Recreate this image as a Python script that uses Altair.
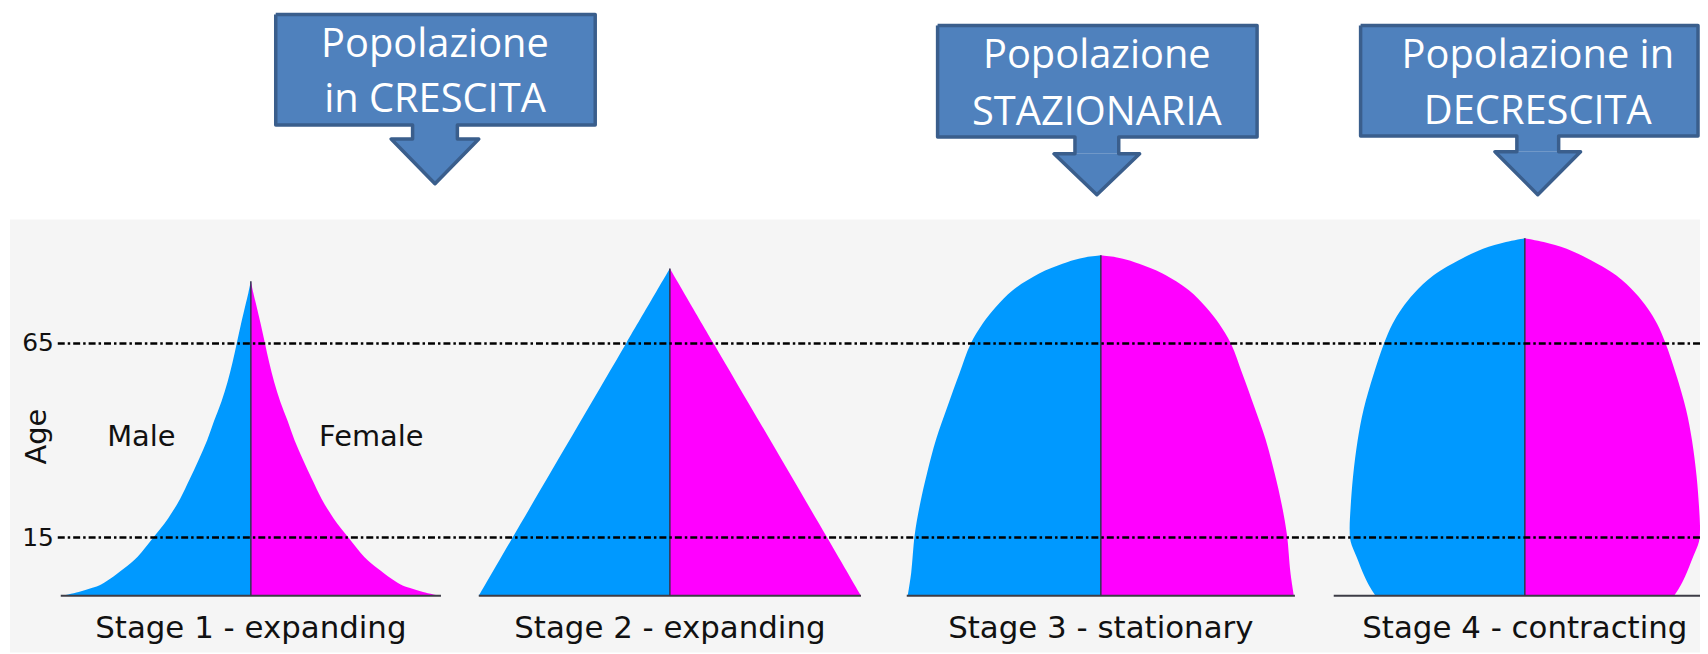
import altair as alt
import pandas as pd

# ---------------- data ----------------
stages = ["Stage 1 - expanding", "Stage 2 - expanding",
          "Stage 3 - stationary", "Stage 4 - contracting"]
stage_center = [252, 673, 1106, 1532]

# half-width of each pyramid (per sex) at a given age
stage1_age = [0, 1, 2, 3, 5, 7, 10, 15, 20, 25, 30, 35, 40, 45, 50, 55, 60, 65, 70, 75, 78, 81]
stage1_width = [190, 173, 160, 150, 138, 127.5, 114, 98, 83, 71, 61.5, 52.5, 44, 37,
                29.6, 23.5, 18.5, 14.2, 9.9, 5.3, 2.5, 0]
stage2_age = [0, 15, 65, 84.3]
stage2_width = [192, 158, 44, 0]
stage3_age = [0, 6, 15.7, 23.2, 31.7, 40.3, 48.8, 57.3, 64.8, 70.2, 74.4, 78.7,
              83, 85.5, 86.5, 87.2, 87.7]
stage3_width = [194, 190.5, 187, 182, 174.5, 165.5, 154, 142, 131, 118.5, 105.5,
                88.5, 62, 38.5, 27, 15, 0]
stage4_age = [0, 2, 5, 10, 14, 17, 23, 31, 40, 48, 57, 65, 70, 74, 78, 82.5,
              86.8, 89.4, 91.1, 92.1]
stage4_width = [150, 155, 161, 169, 175, 176, 175, 172.5, 168, 162, 152, 141.5,
                133, 123.5, 111, 92, 63.5, 42, 19, 0]
base_line_half = [191, 192, 195, 192]

age_ticks = [15, 65]
sex_labels = ["Male", "Female"]
sex_label_x = [142, 373]
sex_label_age = 41

callout_line1 = ["Popolazione", "Popolazione", "Popolazione in"]
callout_line2 = ["in CRESCITA", "STAZIONARIA", "DECRESCITA"]
box_left = [277, 942, 1367]
box_right = [598, 1263, 1706]
box_top = [13, 24, 24]
box_bottom = [124, 136, 135]
arrow_x = [437, 1102, 1545]
stem_half = [22.5, 22, 21]
head_half = [44, 43, 43]
head_top = [138, 153, 151]
tip_y = [183, 194, 194]
line1_y = [56, 67, 67]
line2_y = [111, 124, 123]

# ---------------- styles ----------------
BLUE = "#0099ff"
MAGENTA = "#ff00ff"
BOX_FILL = "#4f81bd"
BOX_EDGE = "#3a5e8c"
LABEL_FONT = "DejaVu Sans"
BOX_FONT = "Open Sans"

xs = alt.Scale(domain=[8, 1708], zero=False, nice=False)
ys_age = alt.Scale(domain=[-14.6, 151.0], zero=False, nice=False)
ys_page = alt.Scale(domain=[654, 8], zero=False, nice=False)

# ---------------- tables ----------------
shape_ages = [stage1_age, stage2_age, stage3_age, stage4_age]
shape_widths = [stage1_width, stage2_width, stage3_width, stage4_width]
rows = []
for s, c, ages, widths in zip(stages, stage_center, shape_ages, shape_widths):
    for a, w in zip(ages, widths):
        rows.append({"stage": s, "sex": "Male", "age": a, "lo": c - w, "hi": c})
        rows.append({"stage": s, "sex": "Female", "age": a, "lo": c, "hi": c + w})
pyr = pd.DataFrame(rows)

stage_df = pd.DataFrame({
    "stage": stages,
    "center": stage_center,
    "top": [a[-1] for a in shape_ages],
    "base": [0] * 4,
    "left": [c - h for c, h in zip(stage_center, base_line_half)],
    "right": [c + h for c, h in zip(stage_center, base_line_half)],
})

tick_df = pd.DataFrame({"age": age_ticks, "label": [str(t) for t in age_ticks],
                        "x0": [58] * 2, "x1": [1708] * 2})
sex_df = pd.DataFrame({"label": sex_labels, "x": sex_label_x,
                       "age": [sex_label_age] * 2})
age_title_df = pd.DataFrame({"label": ["Age"], "x": [37], "age": [sex_label_age]})

bg_df = pd.DataFrame({"x0": [10], "x1": [1708], "y0": [219], "y1": [654]})

ids = [0, 1, 2]
box_df = pd.DataFrame({"id": ids, "l": box_left, "r": box_right,
                       "t": box_top, "b": box_bottom})
stem_df = pd.DataFrame({"id": ids,
                        "l": [a - s for a, s in zip(arrow_x, stem_half)],
                        "r": [a + s for a, s in zip(arrow_x, stem_half)],
                        "t": box_bottom, "b": head_top})
tri_rows = []
outline_rows = []
for i in ids:
    a, sh, hh = arrow_x[i], stem_half[i], head_half[i]
    ht, tp = head_top[i], tip_y[i]
    tri_rows += [{"id": i, "x": a - hh, "y": ht, "y2": ht},
                 {"id": i, "x": a, "y": tp, "y2": ht},
                 {"id": i, "x": a + hh, "y": ht, "y2": ht}]
    pts = [(box_left[i], box_top[i]), (box_right[i], box_top[i]),
           (box_right[i], box_bottom[i]), (a + sh, box_bottom[i]),
           (a + sh, ht), (a + hh, ht), (a, tp), (a - hh, ht), (a - sh, ht),
           (a - sh, box_bottom[i]), (box_left[i], box_bottom[i]),
           (box_left[i], box_top[i])]
    for k, (px, py) in enumerate(pts):
        outline_rows.append({"id": i, "k": k, "x": px, "y": py})
tri_df = pd.DataFrame(tri_rows)
outline_df = pd.DataFrame(outline_rows)
text_df = pd.DataFrame({
    "id": ids * 2,
    "x": arrow_x * 2,
    "y": line1_y + line2_y,
    "text": callout_line1 + callout_line2,
})

# ---------------- layers ----------------
bg = alt.Chart(bg_df).mark_rect(color="#f5f5f5").encode(
    x=alt.X("x0:Q", scale=xs, axis=None), x2="x1:Q",
    y=alt.Y("y0:Q", scale=ys_page, axis=None), y2="y1:Q")

areas = alt.Chart(pyr).mark_area(orient="horizontal", interpolate="catmull-rom").encode(
    x=alt.X("lo:Q", scale=xs, axis=None, stack=None), x2="hi:Q",
    y=alt.Y("age:Q", scale=ys_age, axis=None),
    color=alt.Color("sex:N", scale=alt.Scale(domain=["Male", "Female"],
                                              range=[BLUE, MAGENTA]), legend=None),
    detail="stage:N")

base_lines = alt.Chart(stage_df).mark_rule(color="#3c3c46", strokeWidth=2).encode(
    x=alt.X("left:Q", scale=xs, axis=None), x2="right:Q",
    y=alt.Y("base:Q", scale=ys_age, axis=None))

center_lines = alt.Chart(stage_df).mark_rule(color="#33334d", strokeWidth=1.5).encode(
    x=alt.X("center:Q", scale=xs, axis=None),
    y=alt.Y("base:Q", scale=ys_age, axis=None), y2="top:Q")

dash_lines = alt.Chart(tick_df).mark_rule(
    color="black", strokeWidth=2.5, strokeDash=[7, 3, 2.5, 3]).encode(
    x=alt.X("x0:Q", scale=xs, axis=None), x2="x1:Q",
    y=alt.Y("age:Q", scale=ys_age, axis=None))

tick_text = alt.Chart(tick_df).mark_text(
    font=LABEL_FONT, fontSize=25, align="right", baseline="middle", color="#111", dx=-4
).encode(x=alt.X("x0:Q", scale=xs, axis=None),
         y=alt.Y("age:Q", scale=ys_age, axis=None), text="label:N")

sex_text = alt.Chart(sex_df).mark_text(
    font=LABEL_FONT, fontSize=29, align="center", baseline="middle", color="#111"
).encode(x=alt.X("x:Q", scale=xs, axis=None),
         y=alt.Y("age:Q", scale=ys_age, axis=None), text="label:N")

age_title = alt.Chart(age_title_df).mark_text(
    font=LABEL_FONT, fontSize=29, align="center", baseline="middle", color="#111",
    angle=270
).encode(x=alt.X("x:Q", scale=xs, axis=None),
         y=alt.Y("age:Q", scale=ys_age, axis=None), text="label:N")

stage_text = alt.Chart(stage_df).mark_text(
    font=LABEL_FONT, fontSize=31, align="center", baseline="alphabetic",
    color="#111", dy=42
).encode(x=alt.X("center:Q", scale=xs, axis=None),
         y=alt.Y("base:Q", scale=ys_age, axis=None), text="stage:N")

box_rect = alt.Chart(box_df).mark_rect(color=BOX_FILL).encode(
    x=alt.X("l:Q", scale=xs, axis=None), x2="r:Q",
    y=alt.Y("t:Q", scale=ys_page, axis=None), y2="b:Q")

stem_rect = alt.Chart(stem_df).mark_rect(color=BOX_FILL).encode(
    x=alt.X("l:Q", scale=xs, axis=None), x2="r:Q",
    y=alt.Y("t:Q", scale=ys_page, axis=None), y2="b:Q")

tri = alt.Chart(tri_df).mark_area(color=BOX_FILL, orient="vertical").encode(
    x=alt.X("x:Q", scale=xs, axis=None),
    y=alt.Y("y:Q", scale=ys_page, axis=None, stack=None), y2="y2:Q",
    detail="id:N")

outline = alt.Chart(outline_df).mark_line(
    color=BOX_EDGE, strokeWidth=3.5, strokeJoin="round").encode(
    x=alt.X("x:Q", scale=xs, axis=None),
    y=alt.Y("y:Q", scale=ys_page, axis=None),
    order="k:Q", detail="id:N")

box_text = alt.Chart(text_df).mark_text(
    font=BOX_FONT, fontSize=40, align="center", baseline="alphabetic", color="white"
).encode(x=alt.X("x:Q", scale=xs, axis=None),
         y=alt.Y("y:Q", scale=ys_page, axis=None), text="text:N")

chart = alt.layer(
    bg, areas, base_lines, center_lines, dash_lines, tick_text, sex_text,
    age_title, stage_text, box_rect, stem_rect, tri, outline, box_text
).resolve_scale(y="independent").properties(
    width=1700, height=646, padding=0,
    autosize=alt.AutoSizeParams(type="none"), background="white"
).configure_view(strokeWidth=0)

chart.save("out.html", embed_options={"renderer": "svg", "actions": False})
